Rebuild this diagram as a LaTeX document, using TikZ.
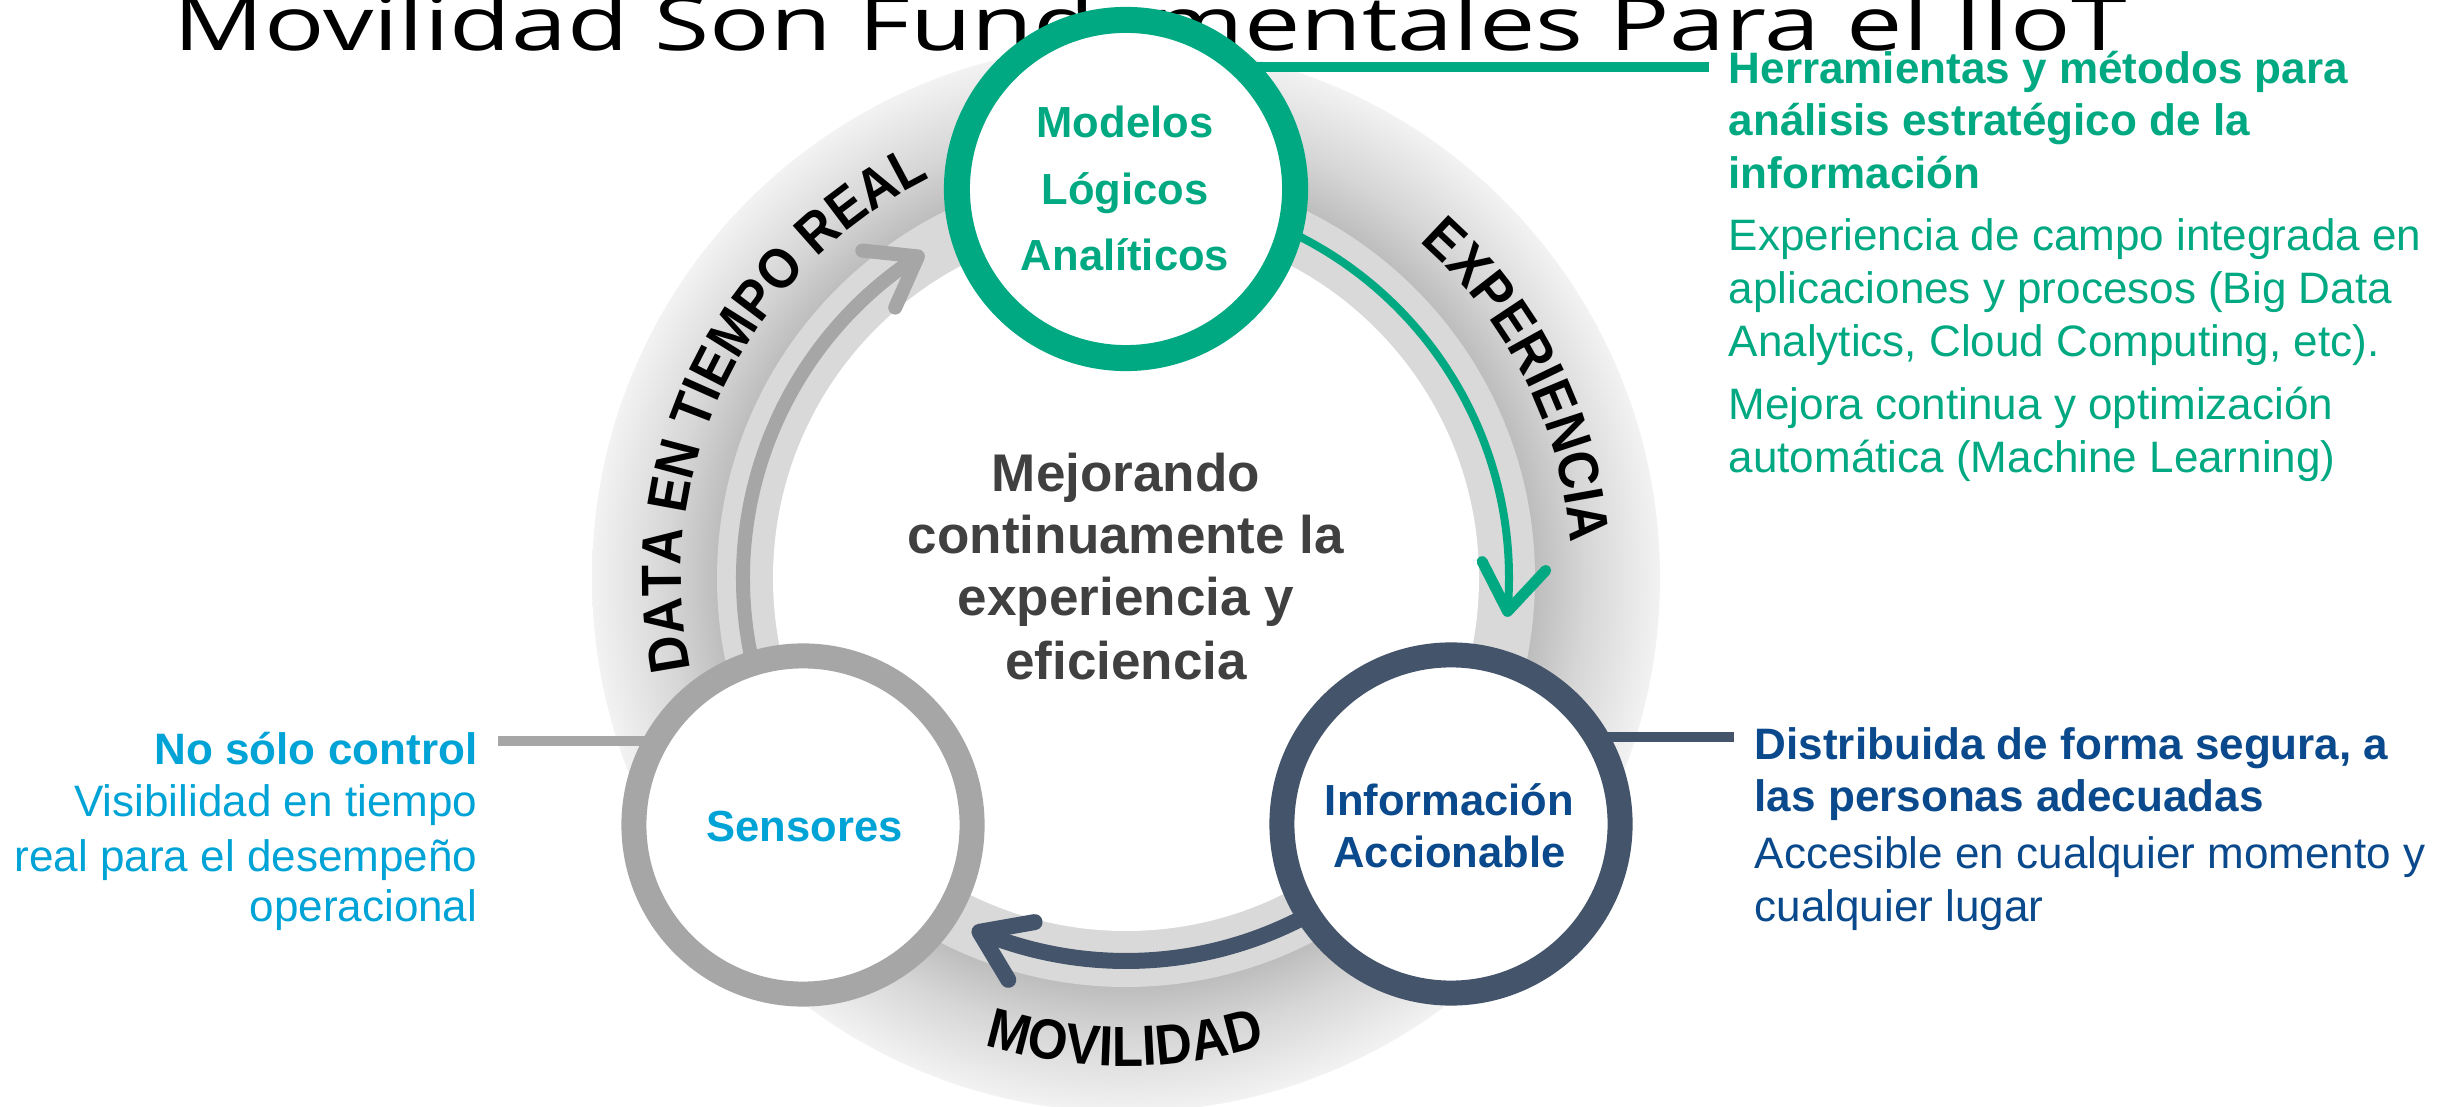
\documentclass[tikz,border=0pt]{standalone}
\usepackage{fontspec}
\usepackage{graphicx}
\setmainfont{Liberation Sans}
\newfontfamily\titlefont{Open Sans}
\newfontfamily\arcfont{Liberation Sans}[FakeStretch=0.9]
\usetikzlibrary{decorations.text,calc}
\pgfdeclarelayer{bgzero}
\pgfdeclarelayer{bgone}
\pgfsetlayers{bgzero,bgone,main}
\definecolor{hgreen}{HTML}{01A982}
\definecolor{slate}{HTML}{44546A}
\definecolor{dblue}{HTML}{0A4A8C}
\definecolor{cyanT}{HTML}{00A3D6}
\definecolor{midgray}{HTML}{A6A6A6}
\definecolor{band}{HTML}{D9D9D9}
\definecolor{ctext}{HTML}{404040}
\pgfdeclareradialshading{halo}{\pgfpoint{0bp}{0bp}}{rgb(0bp)=(0.74,0.74,0.74); rgb(19.1bp)=(0.74,0.74,0.74); rgb(21.5bp)=(0.84,0.84,0.84); rgb(25bp)=(0.95,0.95,0.95); rgb(50bp)=(0.95,0.95,0.95)}
\newcommand\fsSide{\fontsize{12.52}{15}\selectfont}
\newcommand\fsCirc{\fontsize{12.38}{15}\selectfont}
\newcommand\fsCenter{\fontsize{15.08}{18}\selectfont}
\newcommand\fsArc{\arcfont\bfseries\fontsize{16.1}{19}\selectfont}
\newcommand\fsTitle{\titlefont\fontsize{21.3}{25}\selectfont}
\tikzset{
  ring/.style={circle, minimum size=3.38cm, inner sep=0pt, line width=0.25cm, fill=white},
  lbl/.style={anchor=base, inner sep=0pt},
  sidel/.style={anchor=base west, inner sep=0pt, font=\fsSide},
  sider/.style={anchor=base east, inner sep=0pt, font=\fsSide},
  chev/.style={line cap=round, line join=round},
  arctext/.style={decorate, decoration={text along path, text align=center, text={#1}}}
}
\begin{document}
\begin{tikzpicture}[x=0.01cm, y=-0.01cm]
\useasboundingbox (0,0) rectangle (2458,1107);
\coordinate (C) at (1126,578);

% circles (main layer)
\node[ring, draw=hgreen, line width=0.26cm] (mod) at (1126,189) {};
\node[ring, draw=midgray] (sens) at (803,825) {};
\node[ring, draw=slate] (info) at (1451,824) {};

\node[lbl, font=\fsCirc\bfseries, text=hgreen] (m1) at (1125,138) {Modelos};
\node[lbl, font=\fsCirc\bfseries, text=hgreen] (m2) at (1125,205) {Lógicos};
\node[lbl, font=\fsCirc\bfseries, text=hgreen] (m3) at (1125,271) {Analíticos};
\node[lbl, font=\fsCirc\bfseries, text=cyanT] (s1) at (804.5,841) {Sensores};
\node[lbl, font=\fsCirc\bfseries, text=dblue] (i1) at (1449.5,816) {Información};
\node[lbl, font=\fsCirc\bfseries, text=dblue] (i2) at (1449.5,867) {Accionable};

% side texts
\begin{scope}[text=hgreen]
\node[sidel, font=\fsSide\bfseries] (g1) at (1728,84) {Herramientas y métodos para};
\node[sidel, font=\fsSide\bfseries] (g2) at (1728,136) {análisis estratégico de la};
\node[sidel, font=\fsSide\bfseries] (g3) at (1728,189) {información};
\node[sidel] (g4) at (1728,251) {Experiencia de campo integrada en};
\node[sidel] (g5) at (1728,304) {aplicaciones y procesos (Big Data};
\node[sidel] (g6) at (1728,357) {Analytics, Cloud Computing, etc).};
\node[sidel] (g7) at (1728,420) {Mejora continua y optimización};
\node[sidel] (g8) at (1728,473) {automática (Machine Learning)};
\end{scope}
\begin{scope}[text=cyanT]
\node[sider, font=\fsSide\bfseries] (l1) at (478,765) {No sólo control};
\node[sider] (l2) at (478,817) {Visibilidad en tiempo};
\node[sider] (l3) at (478,872) {real para el desempeño};
\node[sider] (l4) at (478,922) {operacional};
\end{scope}
\begin{scope}[text=dblue]
\node[sidel, font=\fsSide\bfseries] (r1) at (1754,760) {Distribuida de forma segura, a};
\node[sidel, font=\fsSide\bfseries] (r2) at (1754,811) {las personas adecuadas};
\node[sidel] (r3) at (1754,869) {Accesible en cualquier momento y};
\node[sidel] (r4) at (1754,921) {cualquier lugar};
\end{scope}

% background: halo, band, title, ring texts, centre text
\begin{pgfonlayer}{bgzero}
\fill[white] (0,0) rectangle (2458,1107);
\shade[shading=halo] (C) circle[radius=534];
\fill[band] (C) circle[radius=409];
\fill[white] (C) circle[radius=353];
\node[anchor=base west, inner sep=0pt, font=\fsTitle] (title) at (173,50.7) {\scalebox{1.341}[1]{Movilidad Son Fundamentales Para el IIoT}};
\path[arctext={|\fsArc|DATA EN TIEMPO REAL}] ($(C)+(158:445)$) arc[start angle=158, end angle=254, radius=445];
\path[arctext={|\fsArc|EXPERIENCIA}] ($(C)+(-66.7:446)$) arc[start angle=-66.7, end angle=13.3, radius=446];
\path[arctext={|\fsArc|MOVILIDAD}] ($(C)+(120:488)$) arc[start angle=120, end angle=60.2, radius=488];
\node[lbl, font=\fsCenter\bfseries, text=ctext] (c1) at (1126,492) {Mejorando};
\node[lbl, font=\fsCenter\bfseries, text=ctext] (c2) at (1126,554) {continuamente la};
\node[lbl, font=\fsCenter\bfseries, text=ctext] (c3) at (1126,616) {experiencia y};
\node[lbl, font=\fsCenter\bfseries, text=ctext] (c4) at (1126,680) {eficiencia};
\end{pgfonlayer}

% arrows and connectors (behind the circles)
\begin{pgfonlayer}{bgone}
\coordinate (gs) at ($(C)+(160:383)$);
\coordinate (gt) at ($(C)+(237.1:383)$);
\draw[midgray, line width=0.14cm] (gs) arc[start angle=160, end angle=236.2, radius=383];
\draw[midgray, line width=0.14cm, chev] ($(gt)+(114:56)$) -- (gt) -- ($(gt)+(186:56)$);

\coordinate (ks) at ($(C)+(-70:383)$);
\coordinate (kt) at ($(C)+(5:383)$);
\draw[hgreen, line width=0.08cm] (ks) arc[start angle=-70, end angle=4.5, radius=383];
\draw[hgreen, line width=0.11cm, chev] ($(kt)+(-117:56)$) -- (kt) -- ($(kt)+(-47:56)$);

\coordinate (bs) at ($(C)+(55:383)$);
\coordinate (bt) at ($(C)+(112.5:383)$);
\draw[slate, line width=0.16cm] (bs) arc[start angle=55, end angle=111.6, radius=383];
\draw[slate, line width=0.16cm, chev] ($(bt)+(-10:56)$) -- (bt) -- ($(bt)+(59:56)$);

\coordinate (gl) at (1709,67);
\draw[hgreen, line width=0.10cm] (gl) -- (gl -| mod.center);
\coordinate (ll) at (498,741);
\draw[midgray, line width=0.09cm] (ll) -- (ll -| sens.center);
\coordinate (rl) at (1734,737);
\draw[slate, line width=0.10cm] (rl) -- (rl -| info.center);
\end{pgfonlayer}
\end{tikzpicture}
\end{document}
